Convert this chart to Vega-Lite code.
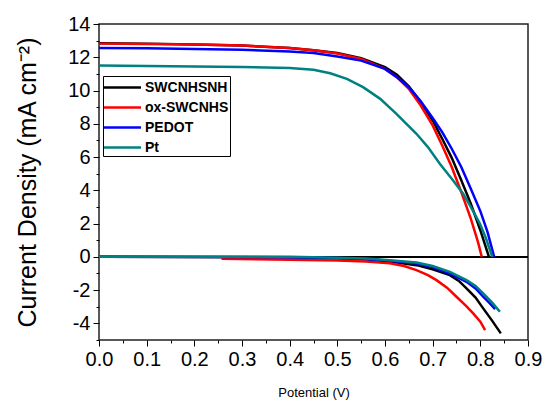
{
  "$schema": "https://vega.github.io/schema/vega-lite/v6.json",
  "width": 429,
  "height": 316,
  "autosize": "none",
  "padding": {"left": 99, "top": 24, "right": 15, "bottom": 60},
  "background": "white",
  "config": {"view": {"stroke": "#222222", "strokeWidth": 1.5}, "font": "Liberation Sans"},
  "data": {"values": [
    {"series": "SWCNHSNH", "curve": "light", "v": 0.0, "j": 12.85},
    {"series": "SWCNHSNH", "curve": "light", "v": 0.1, "j": 12.82},
    {"series": "SWCNHSNH", "curve": "light", "v": 0.2, "j": 12.77},
    {"series": "SWCNHSNH", "curve": "light", "v": 0.3, "j": 12.7},
    {"series": "SWCNHSNH", "curve": "light", "v": 0.4, "j": 12.55},
    {"series": "SWCNHSNH", "curve": "light", "v": 0.45, "j": 12.42},
    {"series": "SWCNHSNH", "curve": "light", "v": 0.5, "j": 12.25},
    {"series": "SWCNHSNH", "curve": "light", "v": 0.55, "j": 11.95},
    {"series": "SWCNHSNH", "curve": "light", "v": 0.6, "j": 11.4},
    {"series": "SWCNHSNH", "curve": "light", "v": 0.625, "j": 10.95},
    {"series": "SWCNHSNH", "curve": "light", "v": 0.65, "j": 10.25},
    {"series": "SWCNHSNH", "curve": "light", "v": 0.675, "j": 9.3},
    {"series": "SWCNHSNH", "curve": "light", "v": 0.7, "j": 8.2},
    {"series": "SWCNHSNH", "curve": "light", "v": 0.72, "j": 7.1},
    {"series": "SWCNHSNH", "curve": "light", "v": 0.74, "j": 5.95},
    {"series": "SWCNHSNH", "curve": "light", "v": 0.76, "j": 4.6},
    {"series": "SWCNHSNH", "curve": "light", "v": 0.78, "j": 3.2},
    {"series": "SWCNHSNH", "curve": "light", "v": 0.8, "j": 1.6},
    {"series": "SWCNHSNH", "curve": "light", "v": 0.818, "j": 0.0},
    {"series": "SWCNHSNH", "curve": "dark", "v": 0.0, "j": 0.0},
    {"series": "SWCNHSNH", "curve": "dark", "v": 0.4, "j": -0.03},
    {"series": "SWCNHSNH", "curve": "dark", "v": 0.5, "j": -0.08},
    {"series": "SWCNHSNH", "curve": "dark", "v": 0.56, "j": -0.15},
    {"series": "SWCNHSNH", "curve": "dark", "v": 0.61, "j": -0.28},
    {"series": "SWCNHSNH", "curve": "dark", "v": 0.666, "j": -0.5},
    {"series": "SWCNHSNH", "curve": "dark", "v": 0.7, "j": -0.75},
    {"series": "SWCNHSNH", "curve": "dark", "v": 0.736, "j": -1.1},
    {"series": "SWCNHSNH", "curve": "dark", "v": 0.755, "j": -1.45},
    {"series": "SWCNHSNH", "curve": "dark", "v": 0.771, "j": -1.9},
    {"series": "SWCNHSNH", "curve": "dark", "v": 0.79, "j": -2.45},
    {"series": "SWCNHSNH", "curve": "dark", "v": 0.806, "j": -3.1},
    {"series": "SWCNHSNH", "curve": "dark", "v": 0.825, "j": -3.85},
    {"series": "SWCNHSNH", "curve": "dark", "v": 0.843, "j": -4.6},
    {"series": "ox-SWCNHS", "curve": "light", "v": 0.0, "j": 12.82},
    {"series": "ox-SWCNHS", "curve": "light", "v": 0.1, "j": 12.8},
    {"series": "ox-SWCNHS", "curve": "light", "v": 0.2, "j": 12.76},
    {"series": "ox-SWCNHS", "curve": "light", "v": 0.3, "j": 12.7},
    {"series": "ox-SWCNHS", "curve": "light", "v": 0.4, "j": 12.55},
    {"series": "ox-SWCNHS", "curve": "light", "v": 0.45, "j": 12.42},
    {"series": "ox-SWCNHS", "curve": "light", "v": 0.5, "j": 12.22},
    {"series": "ox-SWCNHS", "curve": "light", "v": 0.55, "j": 11.9},
    {"series": "ox-SWCNHS", "curve": "light", "v": 0.6, "j": 11.3},
    {"series": "ox-SWCNHS", "curve": "light", "v": 0.625, "j": 10.8},
    {"series": "ox-SWCNHS", "curve": "light", "v": 0.65, "j": 10.1},
    {"series": "ox-SWCNHS", "curve": "light", "v": 0.675, "j": 9.1},
    {"series": "ox-SWCNHS", "curve": "light", "v": 0.7, "j": 7.9},
    {"series": "ox-SWCNHS", "curve": "light", "v": 0.72, "j": 6.7},
    {"series": "ox-SWCNHS", "curve": "light", "v": 0.74, "j": 5.4},
    {"series": "ox-SWCNHS", "curve": "light", "v": 0.76, "j": 3.9},
    {"series": "ox-SWCNHS", "curve": "light", "v": 0.78, "j": 2.3},
    {"series": "ox-SWCNHS", "curve": "light", "v": 0.795, "j": 0.9},
    {"series": "ox-SWCNHS", "curve": "light", "v": 0.803, "j": 0.0},
    {"series": "ox-SWCNHS", "curve": "dark", "v": 0.257, "j": -0.12},
    {"series": "ox-SWCNHS", "curve": "dark", "v": 0.4, "j": -0.17},
    {"series": "ox-SWCNHS", "curve": "dark", "v": 0.5, "j": -0.22},
    {"series": "ox-SWCNHS", "curve": "dark", "v": 0.56, "j": -0.28},
    {"series": "ox-SWCNHS", "curve": "dark", "v": 0.61, "j": -0.38},
    {"series": "ox-SWCNHS", "curve": "dark", "v": 0.64, "j": -0.55},
    {"series": "ox-SWCNHS", "curve": "dark", "v": 0.666, "j": -0.8},
    {"series": "ox-SWCNHS", "curve": "dark", "v": 0.69, "j": -1.1},
    {"series": "ox-SWCNHS", "curve": "dark", "v": 0.708, "j": -1.4},
    {"series": "ox-SWCNHS", "curve": "dark", "v": 0.73, "j": -1.85},
    {"series": "ox-SWCNHS", "curve": "dark", "v": 0.75, "j": -2.4},
    {"series": "ox-SWCNHS", "curve": "dark", "v": 0.77, "j": -2.95},
    {"series": "ox-SWCNHS", "curve": "dark", "v": 0.785, "j": -3.4},
    {"series": "ox-SWCNHS", "curve": "dark", "v": 0.8, "j": -3.9},
    {"series": "ox-SWCNHS", "curve": "dark", "v": 0.81, "j": -4.4},
    {"series": "PEDOT", "curve": "light", "v": 0.0, "j": 12.56},
    {"series": "PEDOT", "curve": "light", "v": 0.1, "j": 12.54},
    {"series": "PEDOT", "curve": "light", "v": 0.2, "j": 12.5},
    {"series": "PEDOT", "curve": "light", "v": 0.3, "j": 12.45},
    {"series": "PEDOT", "curve": "light", "v": 0.4, "j": 12.35},
    {"series": "PEDOT", "curve": "light", "v": 0.45, "j": 12.25},
    {"series": "PEDOT", "curve": "light", "v": 0.5, "j": 12.05},
    {"series": "PEDOT", "curve": "light", "v": 0.55, "j": 11.8},
    {"series": "PEDOT", "curve": "light", "v": 0.6, "j": 11.3},
    {"series": "PEDOT", "curve": "light", "v": 0.625, "j": 10.8},
    {"series": "PEDOT", "curve": "light", "v": 0.65, "j": 10.2},
    {"series": "PEDOT", "curve": "light", "v": 0.675, "j": 9.35},
    {"series": "PEDOT", "curve": "light", "v": 0.7, "j": 8.35},
    {"series": "PEDOT", "curve": "light", "v": 0.72, "j": 7.5},
    {"series": "PEDOT", "curve": "light", "v": 0.74, "j": 6.5},
    {"series": "PEDOT", "curve": "light", "v": 0.76, "j": 5.4},
    {"series": "PEDOT", "curve": "light", "v": 0.78, "j": 4.1},
    {"series": "PEDOT", "curve": "light", "v": 0.8, "j": 2.75},
    {"series": "PEDOT", "curve": "light", "v": 0.815, "j": 1.5},
    {"series": "PEDOT", "curve": "light", "v": 0.829, "j": 0.0},
    {"series": "PEDOT", "curve": "dark", "v": 0.0, "j": 0.0},
    {"series": "PEDOT", "curve": "dark", "v": 0.4, "j": -0.02},
    {"series": "PEDOT", "curve": "dark", "v": 0.5, "j": -0.07},
    {"series": "PEDOT", "curve": "dark", "v": 0.56, "j": -0.13},
    {"series": "PEDOT", "curve": "dark", "v": 0.61, "j": -0.24},
    {"series": "PEDOT", "curve": "dark", "v": 0.666, "j": -0.4},
    {"series": "PEDOT", "curve": "dark", "v": 0.7, "j": -0.62},
    {"series": "PEDOT", "curve": "dark", "v": 0.736, "j": -1.0},
    {"series": "PEDOT", "curve": "dark", "v": 0.771, "j": -1.5},
    {"series": "PEDOT", "curve": "dark", "v": 0.79, "j": -1.9},
    {"series": "PEDOT", "curve": "dark", "v": 0.806, "j": -2.4},
    {"series": "PEDOT", "curve": "dark", "v": 0.82, "j": -2.8},
    {"series": "PEDOT", "curve": "dark", "v": 0.831, "j": -3.14},
    {"series": "Pt", "curve": "light", "v": 0.0, "j": 11.5},
    {"series": "Pt", "curve": "light", "v": 0.1, "j": 11.48},
    {"series": "Pt", "curve": "light", "v": 0.2, "j": 11.45},
    {"series": "Pt", "curve": "light", "v": 0.3, "j": 11.42},
    {"series": "Pt", "curve": "light", "v": 0.4, "j": 11.35},
    {"series": "Pt", "curve": "light", "v": 0.45, "j": 11.25},
    {"series": "Pt", "curve": "light", "v": 0.485, "j": 11.04},
    {"series": "Pt", "curve": "light", "v": 0.52, "j": 10.7},
    {"series": "Pt", "curve": "light", "v": 0.554, "j": 10.2},
    {"series": "Pt", "curve": "light", "v": 0.59, "j": 9.5},
    {"series": "Pt", "curve": "light", "v": 0.624, "j": 8.6},
    {"series": "Pt", "curve": "light", "v": 0.666, "j": 7.4},
    {"series": "Pt", "curve": "light", "v": 0.69, "j": 6.6},
    {"series": "Pt", "curve": "light", "v": 0.715, "j": 5.6},
    {"series": "Pt", "curve": "light", "v": 0.74, "j": 4.7},
    {"series": "Pt", "curve": "light", "v": 0.764, "j": 3.8},
    {"series": "Pt", "curve": "light", "v": 0.78, "j": 3.0},
    {"series": "Pt", "curve": "light", "v": 0.799, "j": 2.0},
    {"series": "Pt", "curve": "light", "v": 0.812, "j": 1.1},
    {"series": "Pt", "curve": "light", "v": 0.825, "j": 0.0},
    {"series": "Pt", "curve": "dark", "v": 0.0, "j": 0.0},
    {"series": "Pt", "curve": "dark", "v": 0.4, "j": 0.0},
    {"series": "Pt", "curve": "dark", "v": 0.5, "j": -0.05},
    {"series": "Pt", "curve": "dark", "v": 0.56, "j": -0.1},
    {"series": "Pt", "curve": "dark", "v": 0.61, "j": -0.2},
    {"series": "Pt", "curve": "dark", "v": 0.666, "j": -0.34},
    {"series": "Pt", "curve": "dark", "v": 0.7, "j": -0.55},
    {"series": "Pt", "curve": "dark", "v": 0.736, "j": -0.9},
    {"series": "Pt", "curve": "dark", "v": 0.771, "j": -1.4},
    {"series": "Pt", "curve": "dark", "v": 0.79, "j": -1.75},
    {"series": "Pt", "curve": "dark", "v": 0.806, "j": -2.2},
    {"series": "Pt", "curve": "dark", "v": 0.825, "j": -2.75},
    {"series": "Pt", "curve": "dark", "v": 0.841, "j": -3.3}
  ]},
  "layer": [
    {
      "mark": {"type": "rule", "color": "black", "strokeWidth": 1},
      "encoding": {"y": {"datum": 0, "type": "quantitative", "axis": null}}
    },
    {
      "mark": {"type": "line", "strokeWidth": 1, "strokeOpacity": 0},
      "encoding": {
        "x": {
          "field": "v", "type": "quantitative",
          "scale": {"domain": [0, 0.9], "nice": false, "zero": false},
          "axis": {
            "orient": "bottom",
            "values": [0.05, 0.15, 0.25, 0.35, 0.45, 0.55, 0.65, 0.75, 0.85],
            "labels": false, "domain": false, "grid": false, "title": null,
            "tickSize": 3, "tickColor": "black", "tickWidth": 1
          }
        },
        "y": {
          "field": "j", "type": "quantitative",
          "scale": {"domain": [-5, 14], "nice": false, "zero": false},
          "axis": {
            "orient": "left",
            "values": [-5, -3, -1, 1, 3, 5, 7, 9, 11, 13],
            "labels": false, "domain": false, "grid": false, "title": null,
            "tickSize": 3, "tickColor": "black", "tickWidth": 1
          }
        },
        "detail": {"field": "series"},
        "strokeDash": {"field": "curve", "legend": null}
      }
    },
    {
      "mark": {"type": "line", "strokeWidth": 2.5, "interpolate": "linear"},
      "encoding": {
        "x": {
          "field": "v", "type": "quantitative",
          "scale": {"domain": [0, 0.9], "nice": false, "zero": false},
          "axis": {
            "orient": "bottom",
            "values": [0, 0.1, 0.2, 0.3, 0.4, 0.5, 0.6, 0.7, 0.8, 0.9],
            "format": ".1f",
            "labelOverlap": false, "labelBound": false,
            "domain": false, "grid": false,
            "tickSize": 6, "tickColor": "black", "tickWidth": 1,
            "labelFontSize": 20, "labelColor": "black", "labelPadding": 3, "labelFlush": false,
            "title": "Potential (V)", "titleFontSize": 13, "titleFontWeight": "normal", "titleColor": "black",
            "titleY": 56, "titleBaseline": "alphabetic"
          }
        },
        "y": {
          "field": "j", "type": "quantitative",
          "scale": {"domain": [-5, 14], "nice": false, "zero": false},
          "axis": {
            "orient": "left",
            "values": [-4, -2, 0, 2, 4, 6, 8, 10, 12, 14],
            "labelExpr": "'' + datum.value",
            "labelOverlap": false, "labelBound": false,
            "domain": false, "grid": false,
            "tickSize": 6, "tickColor": "black", "tickWidth": 1,
            "labelFontSize": 20, "labelColor": "black", "labelPadding": 3, "labelFlush": false,
            "title": "Current Density (mA cm⁻²)", "titleFontSize": 25, "titleFontWeight": "normal", "titleColor": "black",
            "titleX": -64, "titleBaseline": "alphabetic"
          }
        },
        "color": {
          "field": "series", "type": "nominal",
          "scale": {"domain": ["SWCNHSNH", "ox-SWCNHS", "PEDOT", "Pt"], "range": ["#000000", "#ff0000", "#0000ff", "#008080"]},
          "legend": {
            "orient": "none", "legendX": 4, "legendY": 52, "title": null,
            "strokeColor": "black", "fillColor": "white", "padding": 1,
            "symbolType": "M-2,0H2", "symbolSize": 342, "symbolStrokeWidth": 2.5,
            "symbolOffset": 8,
            "labelFontSize": 14, "labelFontWeight": "bold", "labelColor": "black", "labelOffset": 12,
            "rowPadding": 2,
            "labelExpr": "indexof(datum.label, 'ox') === 0 ? '\u00a0ox-SWCNHS\u00a0\u00a0\u00a0\u00a0' : datum.label"
          }
        },
        "detail": {"field": "curve"}
      }
    }
  ],
  "resolve": {"axis": {"x": "independent", "y": "independent"}}
}
